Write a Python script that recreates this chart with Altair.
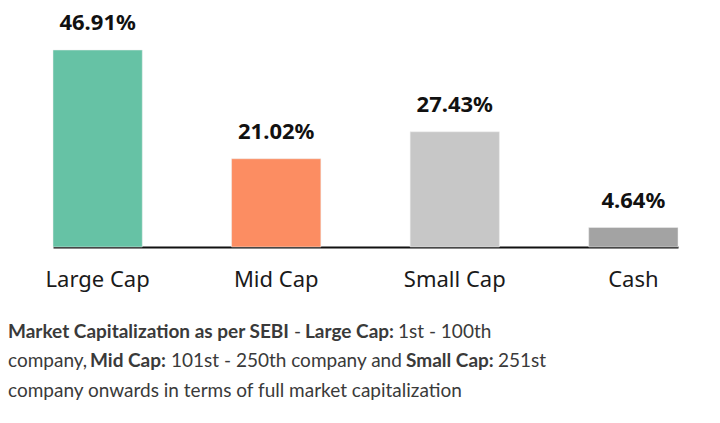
import altair as alt
import pandas as pd

categories = ["Large Cap", "Mid Cap", "Small Cap", "Cash"]
values = [46.91, 21.02, 27.43, 4.64]
labels = ["46.91%", "21.02%", "27.43%", "4.64%"]
colors = ["#66c2a5", "#fc8d62", "#c7c7c7", "#a3a3a3"]

# caption segments: (text, bold)
caption_lines = [
    [("Market Capitalization as per SEBI", True), ("-", False), ("Large Cap:", True), ("1st - 100th", False)],
    [("company,", False), ("Mid Cap:", True), ("101st - 250th company and", False), ("Small Cap:", True), ("251st", False)],
    [("company onwards in terms of full market capitalization", False)],
]
# page-x start of each caption segment (layout)
seg_x = [[8, 294, 305, 398], [8, 90, 171, 406, 498], [8]]
line_y = [338, 367, 397]
CAP_SIZE = 19

df = pd.DataFrame({"cat": categories, "val": values, "lab": labels})

LEFT, TOP = 53, 50
FONT = "Noto Sans"
CAP_FONT = "Lato"

x = alt.X("cat:N", sort=categories,
          scale=alt.Scale(paddingInner=0.5, paddingOuter=0),
          axis=alt.Axis(title=None, labelAngle=0, ticks=False, domainColor="#111",
                        domainWidth=2, labelFontSize=22, labelFont=FONT,
                        labelColor="#1a1a1a", labelPadding=22))
y = alt.Y("val:Q", scale=alt.Scale(nice=False, zero=True), axis=None)

bars = alt.Chart(df).mark_bar(stroke="#eeeeee", strokeWidth=0.5).encode(
    x=x, y=y,
    color=alt.Color("cat:N", scale=alt.Scale(domain=categories, range=colors), legend=None),
)
text = alt.Chart(df).mark_text(font=FONT, fontSize=22, fontWeight="bold", color="#111",
                               baseline="alphabetic", dy=-20).encode(
    x=alt.X("cat:N", sort=categories), y="val:Q", text="lab:N")

layers = [bars, text]
for li, segs in enumerate(caption_lines):
    for si, (t, b) in enumerate(segs):
        layers.append(
            alt.Chart(pd.DataFrame({"t": [t]})).mark_text(
                font=CAP_FONT, fontSize=CAP_SIZE, fontWeight="bold" if b else "normal",
                color="#3a3a3a", align="left", baseline="alphabetic").encode(
                x=alt.value(seg_x[li][si] - LEFT), y=alt.value(line_y[li] - TOP), text="t:N")
        )

chart = alt.layer(*layers).properties(
    width=625, height=197,
    autosize=alt.AutoSizeParams(type="none"),
    padding={"left": LEFT - 8, "top": TOP - 8, "right": 30, "bottom": 170},
).configure_view(stroke=None)

chart.save("out.html", embed_options={"renderer": "svg", "actions": False})
